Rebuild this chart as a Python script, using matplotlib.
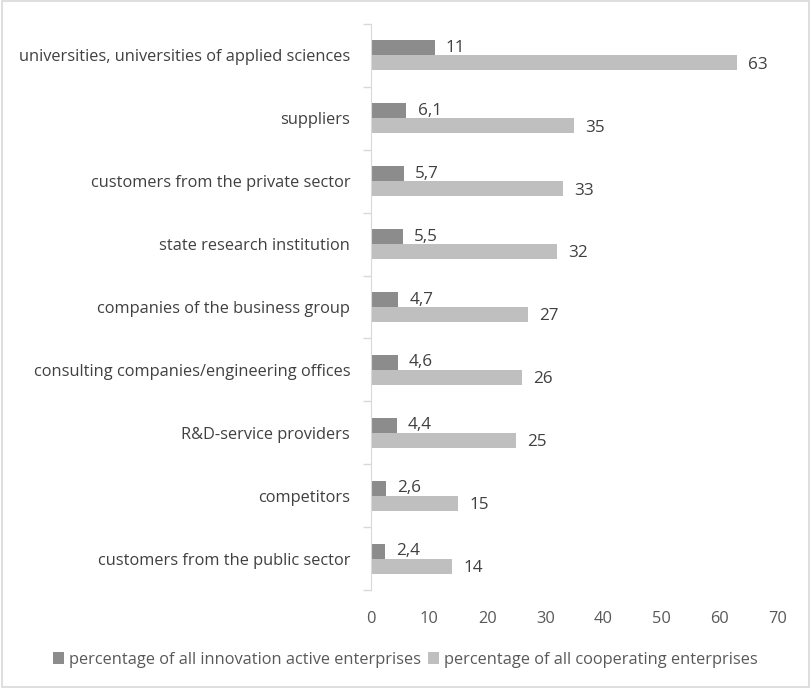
import matplotlib
matplotlib.use("Agg")
import matplotlib.pyplot as plt
import numpy as np

plt.rcParams['font.family'] = ['Open Sans', 'DejaVu Sans']

categories = [
    "universities, universities of applied sciences",
    "suppliers",
    "customers from the private sector",
    "state research institution",
    "companies of the business group",
    "consulting companies/engineering offices",
    "R&D-service providers",
    "competitors",
    "customers from the public sector",
]
innovation_active = [11, 6.1, 5.7, 5.5, 4.7, 4.6, 4.4, 2.6, 2.4]
cooperating = [63, 35, 33, 32, 27, 26, 25, 15, 14]
series_names = ["percentage of all innovation active enterprises",
                "percentage of all cooperating enterprises"]
xticks = [0, 10, 20, 30, 40, 50, 60, 70]

def fmt(v):
    s = f"{v:g}"
    return s.replace(".", ",")

text_color = "#595959"
c_dark = "#8c8c8c"
c_light = "#bfbfbf"
fs = 11.8

fig = plt.figure(figsize=(8.11, 6.88), dpi=100)
fig.patch.set_facecolor("white")
ax = fig.add_axes([0.4575, 0.1424, 0.5015, 0.8227])

n = len(categories)
y = np.arange(n)
h = 0.238
ax.barh(y - h / 2, innovation_active, height=h, color=c_dark, label=series_names[0])
ax.barh(y + h / 2, cooperating, height=h, color=c_light, label=series_names[1])

for yi, v in zip(y, innovation_active):
    ax.text(v + 1.9, yi - h / 2, fmt(v), va="center", ha="left", fontsize=12.3, color="#404040")
for yi, v in zip(y, cooperating):
    ax.text(v + 1.9, yi + h / 2 + 0.03, fmt(v), va="center", ha="left", fontsize=12.3, color="#404040")

ax.set_ylim(n - 0.5, -0.5)
ax.set_xlim(0, 70)
ax.set_xticks(xticks)
ax.set_xticklabels([str(t) for t in xticks], fontsize=fs, color=text_color)
ax.set_yticks(y)
ax.set_yticklabels(categories, fontsize=fs, color="#404040")
ax.tick_params(axis="y", length=0, pad=15)
ax.set_yticks(np.arange(n + 1) - 0.5, minor=True)
ax.tick_params(axis="y", which="minor", length=6, color="#d9d9d9", width=1)
ax.tick_params(axis="x", length=0, pad=15)
for s in ["top", "right", "bottom"]:
    ax.spines[s].set_visible(False)
ax.spines["left"].set_color("#d9d9d9")

handles, labels = ax.get_legend_handles_labels()
leg = fig.legend(handles, labels, loc="center", bbox_to_anchor=(0.5, 0.041), ncol=2,
                 frameon=False, fontsize=fs, handlelength=0.7, handleheight=0.7,
                 handletextpad=0.3, columnspacing=0.4)
for t in leg.get_texts():
    t.set_color(text_color)

border = plt.Rectangle((0.002, 0.002), 0.996, 0.996, transform=fig.transFigure,
                       fill=False, edgecolor="#d9d9d9", linewidth=1.2)
fig.patches.append(border)

fig.savefig("out.png", dpi=100)
